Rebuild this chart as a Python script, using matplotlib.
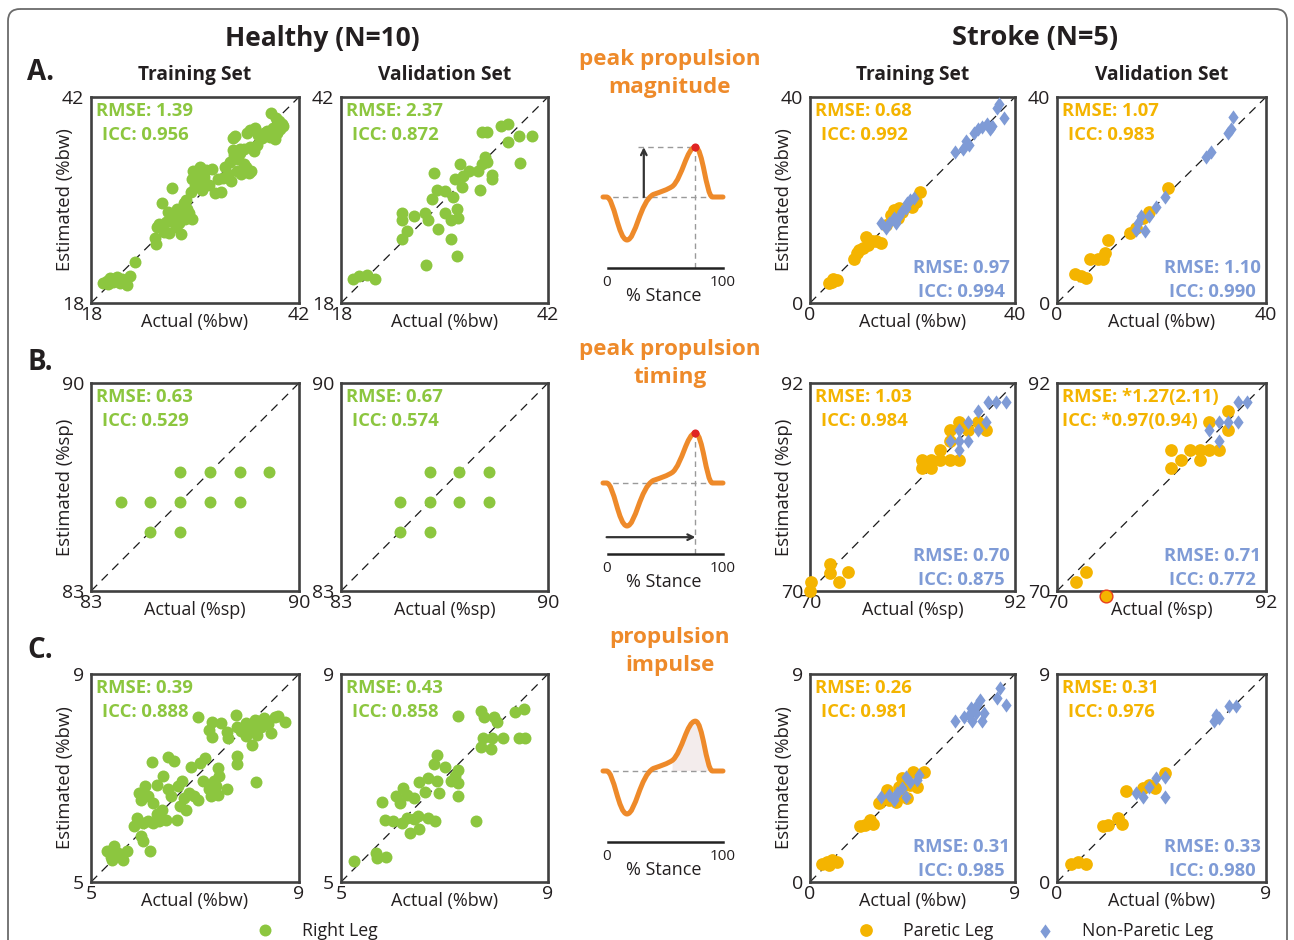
import numpy as np
import matplotlib
matplotlib.use("Agg")
import matplotlib.pyplot as plt
from matplotlib.path import Path
from matplotlib.patches import PathPatch, FancyBboxPatch

plt.rcParams['font.family'] = ['Open Sans', 'DejaVu Sans']

W, H = 1294, 940
GREEN = '#8CC63F'
GOLD = '#F4B400'
BLUE = '#7F9BD6'
ORANGE = '#EE8A2A'
SPINE = '#404040'
INK = '#231f20'

# ---------------- Healthy (N=10), right leg ----------------
# A. peak propulsion magnitude (%bw): (actual, estimated)
HA_TRAIN = np.array([
    (19.4, 20.3), (19.8, 20.6), (20.2, 20.9), (20.5, 20.4), (20.9, 20.7), (21.3, 20.3),
    (21.6, 20.8), (22.2, 20.1), (22.5, 21.1), (20.0, 20.2), (21.0, 21.0), (23.1, 22.8),
    (25.4, 25.6), (25.5, 24.9), (25.6, 26.8), (25.9, 27.2), (26.2, 29.6), (26.4, 26.3),
    (26.7, 27.4), (27.0, 26.1), (27.2, 27.6), (27.3, 31.4), (27.6, 28.0), (27.8, 26.9),
    (28.0, 28.6), (28.2, 27.3), (28.4, 26.0), (28.6, 28.2), (28.9, 27.8), (29.1, 29.0),
    (29.3, 28.5), (29.6, 27.8), (27.9, 29.0), (26.9, 28.6), (28.7, 29.6), (29.0, 30.0),
    (29.5, 30.9), (29.6, 32.5), (29.8, 33.4), (30.0, 31.6), (30.2, 33.0), (30.4, 32.0),
    (30.6, 33.8), (30.8, 31.2), (31.0, 32.7), (31.3, 33.5), (31.6, 31.8), (32.0, 33.6),
    (32.3, 30.8), (33.0, 30.9), (32.6, 32.4), (33.2, 32.6), (33.5, 33.9), (33.8, 33.0),
    (34.0, 34.4), (34.2, 32.2), (34.5, 35.2), (34.8, 33.4), (35.0, 34.8), (35.3, 33.0),
    (35.6, 34.2), (35.9, 33.9), (36.2, 33.2), (36.5, 33.4), (34.4, 35.8), (35.2, 35.5),
    (34.4, 37.2), (34.6, 37.4), (35.2, 36.0), (35.6, 35.9), (36.3, 36.2), (36.8, 35.7),
    (37.1, 36.4), (36.0, 37.8), (36.4, 38.2), (36.9, 38.4), (37.3, 37.6), (37.7, 37.2),
    (38.0, 37.8), (38.3, 38.0), (38.6, 37.3), (38.9, 37.9), (39.2, 37.1), (39.5, 37.8),
    (39.8, 38.3), (40.1, 38.6), (39.0, 38.4), (38.8, 40.1), (39.4, 39.6), (40.0, 38.9),
    (39.7, 39.2)])
HA_VALID = np.array([
    (19.4, 20.8), (20.1, 21.1), (21.0, 21.3), (21.9, 20.8), (25.1, 25.5), (25.6, 26.4),
    (25.1, 27.7), (25.1, 28.5), (26.5, 28.1), (27.9, 22.4), (27.7, 28.5), (28.1, 27.7),
    (28.5, 30.1), (28.8, 33.2), (29.3, 26.6), (29.1, 31.2), (30.0, 31.0), (30.0, 28.5),
    (30.8, 25.5), (30.8, 27.7), (31.0, 30.4), (31.2, 32.4), (31.4, 23.5), (31.6, 27.9),
    (31.4, 28.9), (31.8, 34.2), (32.0, 31.5), (32.2, 32.8), (32.8, 33.4), (33.9, 33.4),
    (34.1, 31.2), (34.3, 34.2), (34.7, 35.0), (34.9, 34.4), (35.5, 32.9), (35.5, 32.4),
    (34.3, 37.9), (34.9, 37.9), (36.5, 38.6), (37.4, 38.8), (37.4, 36.8), (38.6, 37.5),
    (38.8, 34.3), (40.1, 37.5)])

# B. peak propulsion timing (%sp)
HB_TRAIN = np.array([
    (86, 87), (87, 87), (88, 87), (89, 87),
    (84, 86), (85, 86), (86, 86), (87, 86), (88, 86),
    (85, 85), (86, 85)])
HB_VALID = np.array([
    (86, 87), (87, 87), (88, 87),
    (85, 86), (86, 86), (87, 86), (88, 86),
    (85, 85), (86, 85)])

# C. propulsion impulse (%bw)
HC_TRAIN = np.array([
    (5.31, 5.59), (5.45, 5.70), (5.41, 5.43), (5.62, 5.43), (5.69, 5.59), (5.51, 5.56),
    (5.38, 5.49), (6.13, 5.59), (5.96, 5.88), (6.00, 5.78), (5.82, 6.07), (5.89, 6.23),
    (6.00, 6.13), (6.10, 6.17), (6.20, 6.13), (6.30, 6.17), (6.44, 6.20), (6.65, 6.19),
    (6.27, 6.30), (6.37, 6.39), (5.93, 6.71), (6.03, 6.84), (5.96, 6.58), (6.10, 6.65),
    (6.20, 6.52), (6.27, 6.87), (6.39, 7.03), (6.48, 6.78), (6.54, 6.65), (6.68, 6.84),
    (6.72, 6.46), (6.78, 6.62), (6.82, 6.39), (6.89, 6.71), (6.99, 6.65), (7.06, 6.58),
    (6.75, 6.94), (6.17, 7.30), (6.48, 7.40), (6.60, 7.32), (6.92, 7.21), (7.09, 7.29),
    (7.20, 7.38), (7.16, 6.94), (7.26, 6.78), (7.37, 6.94), (7.44, 7.19), (7.47, 7.03),
    (7.40, 6.84), (7.61, 6.78), (7.30, 6.65), (7.44, 6.68), (7.81, 7.42), (7.81, 7.26),
    (8.18, 6.92), (7.06, 8.17), (7.26, 7.93), (7.33, 8.07), (7.33, 7.79), (7.50, 8.06),
    (7.61, 7.88), (7.64, 7.77), (7.78, 8.22), (7.81, 7.99), (7.88, 7.90), (7.98, 8.06),
    (7.98, 7.80), (8.09, 7.64), (8.05, 7.93), (8.16, 8.12), (8.19, 7.83), (8.26, 7.99),
    (8.33, 8.15), (8.40, 8.03), (8.46, 7.87), (8.53, 8.17), (8.60, 8.19), (8.74, 8.07),
    (8.22, 8.09), (8.12, 7.96)])
HC_VALID = np.array([
    (5.25, 5.41), (5.67, 5.56), (5.69, 5.47), (5.86, 5.48), (5.79, 6.54), (5.85, 6.19),
    (6.00, 6.17), (6.17, 6.13), (6.33, 5.94), (6.27, 6.23), (6.41, 6.21), (6.51, 6.01),
    (6.48, 6.26), (6.68, 6.23), (6.82, 6.17), (6.07, 6.65), (6.14, 6.52), (6.20, 6.81),
    (6.27, 6.68), (6.41, 6.62), (6.51, 6.92), (6.62, 6.74), (6.68, 7.00), (6.86, 6.94),
    (6.89, 6.71), (6.79, 7.26), (6.86, 7.44), (7.00, 7.22), (7.13, 6.94), (7.27, 7.16),
    (7.27, 6.90), (7.27, 6.65), (7.20, 7.04), (7.61, 6.18), (7.27, 8.19), (7.71, 8.28),
    (7.77, 8.17), (7.96, 8.17), (8.02, 8.07), (7.75, 7.77), (7.92, 7.77), (8.13, 7.77),
    (7.71, 7.60), (7.89, 7.56), (8.37, 8.26), (8.54, 8.33), (8.44, 7.77), (8.55, 7.77)])

# ---------------- Stroke (N=5): paretic / non-paretic ----------------
SA_TRAIN_P = np.array([
    (3.7, 3.85), (4.5, 4.6), (5.3, 4.5), (4.3, 4.1), (8.5, 8.6), (9.1, 9.7), (9.6, 10.3),
    (11.0, 12.8), (11.3, 11.3), (12.0, 12.0), (12.9, 12.0), (13.8, 11.7), (10.4, 10.7),
    (14.8, 15.2), (15.8, 17.1), (16.4, 18.1), (17.4, 18.4), (17.1, 16.5), (18.0, 17.6),
    (19.3, 19.0), (19.9, 18.7), (20.6, 19.7), (21.5, 21.6)])
SA_TRAIN_N = np.array([
    (13.9, 15.5), (14.8, 14.6), (15.5, 15.5), (16.4, 16.5), (17.4, 16.8), (18.0, 17.8),
    (18.7, 18.4), (19.0, 19.4), (19.6, 20.0), (20.3, 20.3), (16.8, 15.5), (28.2, 29.3),
    (29.8, 29.9), (30.4, 31.5), (31.1, 30.6), (32.0, 33.1), (32.7, 33.8), (33.6, 34.1),
    (34.6, 34.7), (35.2, 33.8), (35.5, 34.4), (36.5, 37.9), (36.8, 38.6), (37.8, 36.0)])
SA_VALID_P = np.array([
    (3.4, 5.6), (4.6, 5.3), (5.5, 4.9), (6.4, 8.6), (7.8, 8.5), (8.8, 8.5), (9.1, 9.7),
    (9.7, 12.3), (13.9, 13.6), (15.2, 14.6), (16.4, 16.5), (17.7, 17.6), (21.2, 22.4)])
SA_VALID_N = np.array([
    (15.2, 14.2), (15.5, 15.5), (16.1, 16.8), (16.8, 13.9), (17.7, 16.8), (19.0, 18.7),
    (20.6, 20.6), (28.5, 28.3), (29.5, 29.3), (32.7, 33.1), (33.3, 33.8), (33.6, 36.2)])

SB_TRAIN_P = np.array([
    (70.0, 70.0), (70.1, 71.0), (72.1, 72.9), (72.1, 71.9), (73.1, 71.0), (74.1, 72.0),
    (82.0, 83.9), (82.0, 83.0), (83.0, 83.9), (83.0, 83.0), (84.0, 84.9), (84.0, 83.9),
    (85.0, 83.9), (85.0, 87.0), (85.0, 85.9), (86.0, 87.9), (86.0, 83.9), (87.0, 87.0),
    (88.0, 87.9), (88.9, 87.0)])
SB_TRAIN_N = np.array([
    (85.0, 85.9), (86.0, 84.9), (86.0, 87.0), (86.0, 85.9), (87.0, 87.9), (87.0, 85.9),
    (88.0, 89.0), (88.0, 87.0), (88.9, 87.9), (89.1, 90.0), (90.0, 90.0), (91.0, 90.0)])
SB_VALID_P = np.array([
    (72.0, 70.9), (73.0, 72.0), (82.0, 83.0), (82.0, 84.9), (83.0, 83.9), (84.0, 84.9),
    (85.0, 83.9), (85.0, 84.9), (86.0, 84.9), (87.0, 84.9), (86.0, 87.9), (88.0, 87.0),
    (88.0, 89.0)])
SB_VALID_OUTLIER = np.array([(75.2, 69.5)])
SB_VALID_N = np.array([
    (86.0, 87.0), (87.0, 87.9), (87.0, 85.9), (88.0, 87.9), (89.0, 87.9), (89.0, 90.0),
    (90.0, 90.0)])

SC_TRAIN_P = np.array([
    (0.52, 0.79), (0.76, 0.87), (0.95, 0.97), (1.19, 0.87), (0.83, 0.72), (2.19, 2.43),
    (2.41, 2.46), (2.62, 2.68), (2.77, 2.50), (3.01, 3.40), (3.38, 3.98), (3.48, 3.54),
    (3.77, 3.47), (3.91, 4.12), (4.05, 4.48), (4.27, 3.62), (4.41, 4.19), (4.53, 4.77),
    (4.70, 4.09), (4.99, 4.77), (3.98, 3.83)])
SC_TRAIN_N = np.array([
    (3.12, 3.69), (3.48, 3.76), (3.70, 3.54), (3.84, 3.83), (4.05, 4.05), (4.20, 4.56),
    (4.20, 3.69), (4.41, 4.34), (4.70, 4.41), (4.77, 4.63), (6.38, 6.95), (6.78, 7.16),
    (7.06, 7.52), (7.13, 6.95), (7.28, 7.31), (7.35, 7.67), (7.45, 7.89), (7.56, 6.95),
    (7.64, 7.31), (8.21, 7.96), (8.35, 8.39), (8.60, 7.67), (6.99, 7.23)])
SC_VALID_P = np.array([
    (0.62, 0.79), (0.90, 0.87), (1.26, 0.77), (1.98, 2.43), (2.19, 2.46), (2.62, 2.79),
    (2.81, 2.50), (2.98, 3.93), (3.70, 4.05), (3.98, 4.20), (4.20, 4.05), (4.63, 4.70)])
SC_VALID_N = np.array([
    (3.41, 3.83), (3.70, 3.69), (3.98, 4.13), (4.27, 4.48), (4.63, 4.56), (4.67, 3.69),
    (6.78, 6.95), (6.85, 7.23), (6.99, 7.09), (7.42, 7.60), (7.71, 7.60)])

# Axis ranges per measure
LIM_HA, LIM_HB, LIM_HC = (18, 42), (83, 90), (5, 9)
LIM_SA, LIM_SB, LIM_SC = (0, 40), (70, 92), (0, 9)

# Agreement statistics: (RMSE, ICC)
STATS = {
    'HA_TRAIN': ('1.39', '0.956'), 'HA_VALID': ('2.37', '0.872'),
    'HB_TRAIN': ('0.63', '0.529'), 'HB_VALID': ('0.67', '0.574'),
    'HC_TRAIN': ('0.39', '0.888'), 'HC_VALID': ('0.43', '0.858'),
    'SA_TRAIN_P': ('0.68', '0.992'), 'SA_TRAIN_N': ('0.97', '0.994'),
    'SA_VALID_P': ('1.07', '0.983'), 'SA_VALID_N': ('1.10', '0.990'),
    'SB_TRAIN_P': ('1.03', '0.984'), 'SB_TRAIN_N': ('0.70', '0.875'),
    'SB_VALID_P': ('*1.27(2.11)', '*0.97(0.94)'), 'SB_VALID_N': ('0.71', '0.772'),
    'SC_TRAIN_P': ('0.26', '0.981'), 'SC_TRAIN_N': ('0.31', '0.985'),
    'SC_VALID_P': ('0.31', '0.976'), 'SC_VALID_N': ('0.33', '0.980'),
}

# Schematic propulsion force curve: Bezier nodes/control points over % stance
CURVE_T = [0, 3, 9, 13, 20, 27, 31, 42, 49, 53, 58, 66, 70, 77, 83, 86, 91, 100]
CURVE_V = [0, 0, 0, -1, -1, -1, -0.1, 0.06, 0.13, 0.16, 0.25, 0.45, 1.16, 1.16,
           1.16, 0.05, 0, 0]
PEAK = (77, 1.16)

# ---------------------------------------------------------------------------
fig = plt.figure(figsize=(W / 100, H / 100), dpi=100)


def px_axes(x0, y0, x1, y1):
    return fig.add_axes([x0 / W, 1 - y1 / H, (x1 - x0) / W, (y1 - y0) / H])


def ftext(x, y, s, **kw):
    return fig.text(x / W, 1 - y / H, s, **kw)


# Overlay in pixel units for the outer frame and legend keys
ov = fig.add_axes([0, 0, 1, 1], zorder=-5)
ov.set_xlim(0, W)
ov.set_ylim(H, 0)
ov.axis('off')
ov.add_patch(FancyBboxPatch((8, 9), 1279, 980,
                            boxstyle='round,pad=0,rounding_size=12',
                            fill=False, ec='#6b6b6b', lw=1.3, clip_on=False))

COLS = {'ht': (91, 299), 'hv': (341, 548), 'st': (810, 1015), 'sv': (1057, 1266)}
ROWS = {'A': (97, 303), 'B': (383, 591), 'C': (674, 882)}

DIAMOND = [(0, 1), (0.72, 0), (0, -1), (-0.72, 0), (0, 1)]
FS_STAT = 13.3


def panel(col, row, lim, unit, series, top_stats, top_color, bot_stats=None,
          ylabel=False, indent=True):
    x0, x1 = COLS[col]
    y0, y1 = ROWS[row]
    ax = px_axes(x0, y0, x1, y1)
    lo, hi = lim
    ax.set_xlim(lo, hi)
    ax.set_ylim(lo, hi)
    ax.plot([lo, hi], [lo, hi], color='#1a1a1a', lw=0.9, dashes=(7, 5), zorder=1)
    for pts, kind in series:
        if kind == 'green':
            ax.scatter(pts[:, 0], pts[:, 1], s=74, c=GREEN, lw=0, zorder=3, clip_on=False)
        elif kind == 'gold':
            ax.scatter(pts[:, 0], pts[:, 1], s=84, c=GOLD, lw=0, zorder=3, clip_on=False)
        elif kind == 'gold_flag':
            ax.scatter(pts[:, 0], pts[:, 1], s=84, c=GOLD, edgecolors='#E8401C',
                       lw=1.0, zorder=5, clip_on=False)
        else:
            ax.scatter(pts[:, 0], pts[:, 1], s=105, c=BLUE, marker=DIAMOND, lw=0,
                       zorder=4, clip_on=False)
    ax.set_xticks([lo, hi])
    ax.set_yticks([lo, hi])
    ax.set_xticklabels([str(lo), str(hi)])
    ax.set_yticklabels([str(lo), str(hi)])
    ax.tick_params(length=0, labelsize=14, colors=INK)
    ax.tick_params(axis='x', pad=2)
    ax.tick_params(axis='y', pad=5)
    for sp in ax.spines.values():
        sp.set_linewidth(1.9)
        sp.set_color(SPINE)
        sp.set_zorder(2)
    ax.text(0.5, -0.093, f'Actual ({unit})', transform=ax.transAxes, ha='center',
            va='center', fontsize=13, color=INK)
    if ylabel:
        ax.text(-0.125, 0.5, f'Estimated ({unit})', transform=ax.transAxes,
                rotation=90, ha='center', va='center', fontsize=13.3, color=INK)
    r, i = top_stats
    ax.text(0.022, 0.932, f'RMSE: {r}', transform=ax.transAxes, ha='left',
            va='center', fontsize=FS_STAT, fontweight='bold', color=top_color)
    ax.text(0.055 if indent else 0.022, 0.815, f'ICC: {i}', transform=ax.transAxes,
            ha='left', va='center', fontsize=FS_STAT, fontweight='bold', color=top_color)
    if bot_stats:
        r, i = bot_stats
        ax.text(0.975, 0.17, f'RMSE: {r}', transform=ax.transAxes, ha='right',
                va='center', fontsize=FS_STAT, fontweight='bold', color=BLUE)
        ax.text(0.95, 0.055, f'ICC: {i}', transform=ax.transAxes, ha='right',
                va='center', fontsize=FS_STAT, fontweight='bold', color=BLUE)
    return ax


# Healthy panels
panel('ht', 'A', LIM_HA, '%bw', [(HA_TRAIN, 'green')], STATS['HA_TRAIN'], GREEN, ylabel=True)
panel('hv', 'A', LIM_HA, '%bw', [(HA_VALID, 'green')], STATS['HA_VALID'], GREEN)
panel('ht', 'B', LIM_HB, '%sp', [(HB_TRAIN, 'green')], STATS['HB_TRAIN'], GREEN, ylabel=True)
panel('hv', 'B', LIM_HB, '%sp', [(HB_VALID, 'green')], STATS['HB_VALID'], GREEN)
panel('ht', 'C', LIM_HC, '%bw', [(HC_TRAIN, 'green')], STATS['HC_TRAIN'], GREEN, ylabel=True)
panel('hv', 'C', LIM_HC, '%bw', [(HC_VALID, 'green')], STATS['HC_VALID'], GREEN)

# Stroke panels
panel('st', 'A', LIM_SA, '%bw', [(SA_TRAIN_P, 'gold'), (SA_TRAIN_N, 'blue')],
      STATS['SA_TRAIN_P'], GOLD, STATS['SA_TRAIN_N'], ylabel=True)
panel('sv', 'A', LIM_SA, '%bw', [(SA_VALID_P, 'gold'), (SA_VALID_N, 'blue')],
      STATS['SA_VALID_P'], GOLD, STATS['SA_VALID_N'])
panel('st', 'B', LIM_SB, '%sp', [(SB_TRAIN_P, 'gold'), (SB_TRAIN_N, 'blue')],
      STATS['SB_TRAIN_P'], GOLD, STATS['SB_TRAIN_N'], ylabel=True)
panel('sv', 'B', LIM_SB, '%sp', [(SB_VALID_P, 'gold'), (SB_VALID_N, 'blue'),
                                 (SB_VALID_OUTLIER, 'gold_flag')],
      STATS['SB_VALID_P'], GOLD, STATS['SB_VALID_N'], indent=False)
panel('st', 'C', LIM_SC, '%bw', [(SC_TRAIN_P, 'gold'), (SC_TRAIN_N, 'blue')],
      STATS['SC_TRAIN_P'], GOLD, STATS['SC_TRAIN_N'], ylabel=True)
panel('sv', 'C', LIM_SC, '%bw', [(SC_VALID_P, 'gold'), (SC_VALID_N, 'blue')],
      STATS['SC_VALID_P'], GOLD, STATS['SC_VALID_N'])

# Schematic force curves in the middle column
CODES = ([Path.MOVETO, Path.LINETO] + [Path.CURVE4] * 15 + [Path.LINETO])
curve_path = Path(np.column_stack([CURVE_T, CURVE_V]), CODES)


def schematic(base_y, kind):
    ax = px_axes(603, base_y - 62, 723, base_y + 78)
    ax.set_xlim(0, 100)
    ax.set_ylim(-1.814, 1.442)
    ax.axis('off')
    dash = dict(color='#9a9a9a', lw=1.0, dashes=(4, 3), clip_on=False)
    ax.plot([0, 100], [0, 0], **dash, zorder=1)
    if kind == 'impulse':
        fill_v = np.array([(58, 0), (58, 0.25), (66, 0.45), (70, 1.16), (77, 1.16),
                           (83, 1.16), (86, 0.05), (91, 0), (58, 0)])
        fill_c = [Path.MOVETO, Path.LINETO] + [Path.CURVE4] * 6 + [Path.CLOSEPOLY]
        ax.add_patch(PathPatch(Path(fill_v, fill_c), fc='#F3ECEC', ec='none',
                               zorder=0, clip_on=False))
    else:
        ax.plot([PEAK[0], PEAK[0]], [-1.65, PEAK[1]], **dash, zorder=1)
    if kind == 'magnitude':
        ax.plot([29, PEAK[0]], [PEAK[1], PEAK[1]], **dash, zorder=1)
        ax.annotate('', xy=(34, PEAK[1]), xytext=(34, 0),
                    arrowprops=dict(arrowstyle='->', lw=1.6, color='#333333',
                                    shrinkA=0, shrinkB=0), annotation_clip=False)
    if kind == 'timing':
        ax.annotate('', xy=(PEAK[0], -1.26), xytext=(3, -1.26),
                    arrowprops=dict(arrowstyle='->', lw=1.6, color='#333333',
                                    shrinkA=0, shrinkB=0), annotation_clip=False)
    ax.add_patch(PathPatch(curve_path, fc='none', ec='#EE8A2A', lw=3.6,
                           capstyle='round', joinstyle='round', zorder=3, clip_on=False))
    if kind != 'impulse':
        ax.scatter([PEAK[0]], [PEAK[1]], s=34, c='#E02424', lw=0, zorder=4, clip_on=False)
    ax.plot([4.2, 100], [-1.65, -1.65], color='#222222', lw=1.8, clip_on=False)
    ax.text(3, -2.0, '0', ha='center', va='center', fontsize=11, color=INK, clip_on=False)
    ax.text(100, -2.0, '100', ha='center', va='center', fontsize=11, color=INK, clip_on=False)
    ax.text(51, -2.3, '% Stance', ha='center', va='center', fontsize=13, color=INK,
            clip_on=False)


schematic(197, 'magnitude')
schematic(483, 'timing')
schematic(771, 'impulse')

# Headings
ftext(322, 38, 'Healthy (N=10)', ha='center', va='center', fontsize=19,
      fontweight='bold', color=INK)
ftext(1035, 38, 'Stroke (N=5)', ha='center', va='center', fontsize=19.5,
      fontweight='bold', color=INK)
for lab, y in (('A.', 73), ('B.', 362), ('C.', 650)):
    ftext(27, y, lab, ha='left', va='center', fontsize=20, fontweight='bold', color=INK)
for col, name in (('ht', 'Training Set'), ('hv', 'Validation Set'),
                  ('st', 'Training Set'), ('sv', 'Validation Set')):
    ftext(sum(COLS[col]) / 2, 75, name, ha='center', va='center', fontsize=13.8,
          fontweight='bold', color=INK)
for (l1, l2), y in ((('peak propulsion', 'magnitude'), 60),
                    (('peak propulsion', 'timing'), 350),
                    (('propulsion', 'impulse'), 638)):
    ftext(670, y, l1, ha='center', va='center', fontsize=16.2, fontweight='bold', color=ORANGE)
    ftext(670, y + 27, l2, ha='center', va='center', fontsize=16.2, fontweight='bold',
          color=ORANGE)

# Legend keys
ov.scatter([265], [930], s=74, c=GREEN, lw=0, clip_on=False)
ov.scatter([866], [930], s=84, c=GOLD, lw=0, clip_on=False)
ov.scatter([1045], [931], s=105, c=BLUE, marker=DIAMOND, lw=0, clip_on=False)
ftext(302, 931, 'Right Leg', ha='left', va='center', fontsize=12.8, color=INK)
ftext(903, 931, 'Paretic Leg', ha='left', va='center', fontsize=12.8, color=INK)
ftext(1082, 931, 'Non-Paretic Leg', ha='left', va='center', fontsize=12.8, color=INK)

fig.savefig('out.png', dpi=100, facecolor='white')
